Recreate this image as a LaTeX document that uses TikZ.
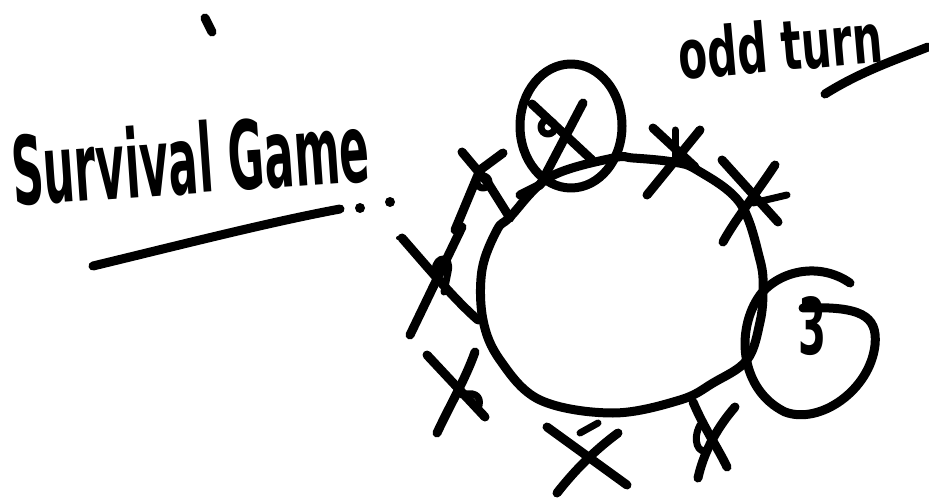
\documentclass[tikz,border=0pt]{standalone}
\usepackage{graphicx}
\usepackage{fontspec}
\newfontfamily\handfont{DejaVu Sans}
\usetikzlibrary{calc}
\begin{document}
\begin{tikzpicture}[x=1pt,y=-1pt,
  ink/.style={line width=9pt,line cap=round,line join=round,black},
  inkthin/.style={line width=7pt,line cap=round,line join=round,black},
  hand/.style={inner sep=0pt,anchor=base west,font=\handfont\bfseries}]
\useasboundingbox (0,0) rectangle (929,500);
% stray tick at top
\draw[ink] (205,18) coordinate (t1) -- (212,32) coordinate (t2);
% title
\node[hand,rotate=4] (title) at (14,206) {\resizebox{358pt}{72pt}{Survival Game}};
\draw[ink] (93,266) coordinate (u1) .. controls (180,245) and (270,222) .. (340,209) coordinate (u2);
\fill (360,208) circle (5pt) (390,202) circle (5pt) (398,238) circle (2pt);
% odd turn
\node[hand,rotate=5] (odd) at (680,80) {\resizebox{205pt}{52pt}{odd turn}};
\draw[ink] (825,94) coordinate (o1) .. controls (860,72) and (895,60) .. (928,47) coordinate (o2);
% main circle
\draw[ink] plot[smooth cycle,tension=0.6] coordinates {
 (510,217) (550,177) (613,158) (633,158) (673,162) (697,170) (740,203) (760,260)
 (763,290) (760,322) (747,360) (713,383) (680,400) (613,413) (540,400) (500,360)
 (483,320) (482,270) (497,230)};
% top small circle
\draw[ink] (571,126) ellipse [x radius=51, y radius=62];
\draw[ink] (532,104) coordinate (a1) -- (592,160) coordinate (a2);
\draw[ink] (583,103) coordinate (a3) -- (540,185) coordinate (a4) -- (520,195);
\draw[inkthin] (548,127) circle (7pt);
% left-top X and connecting strokes
\draw[ink] (462,152) -- (488,183) -- (510,218);
\draw[ink] (503,153) -- (480,170) -- (455,230);
\draw[inkthin] (483,182) circle (6pt);
% left X
\draw[ink] (402,238) .. controls (430,270) and (455,300) .. (478,320);
\draw[ink] (462,227) -- (410,335);
\draw[inkthin] (435,270) .. controls (436,255) and (452,255) .. (448,272) -- (444,292);
% bottom-left X
\draw[ink] (427,355) -- (485,417);
\draw[ink] (475,352) .. controls (465,380) and (450,405) .. (437,433);
\draw[inkthin] (462,395) .. controls (478,390) and (482,400) .. (478,408);
% bottom X
\draw[ink] (547,427) -- (627,485);
\draw[ink] (618,433) .. controls (595,450) and (575,470) .. (557,493);
\draw[inkthin] (580,433) -- (598,423);
% bottom-right X
\draw[ink] (693,402) .. controls (705,430) and (718,448) .. (727,467);
\draw[ink] (735,407) .. controls (715,430) and (703,455) .. (698,478);
\draw[inkthin] (700,425) .. controls (692,440) and (698,455) .. (708,450);
% right circle with 3
\draw[ink] (850,283) .. controls (820,262) and (780,270) .. (760,295)
  .. controls (735,330) and (740,390) .. (785,412)
  .. controls (820,425) and (870,390) .. (875,345)
  .. controls (878,315) and (860,306) .. (803,308);
\node[hand,anchor=center] (three) at (812,326) {\resizebox{28pt}{58pt}{3}};
% top-right X
\draw[ink] (653,128) -- (695,167);
\draw[ink] (700,130) -- (647,195);
\draw[inkthin] (675,130) -- (675,157);
% right X
\draw[ink] (722,160) -- (778,222);
\draw[ink] (775,165) .. controls (755,195) and (735,220) .. (723,242);
\draw[inkthin] (787,195) -- (753,203);
\end{tikzpicture}
\end{document}
